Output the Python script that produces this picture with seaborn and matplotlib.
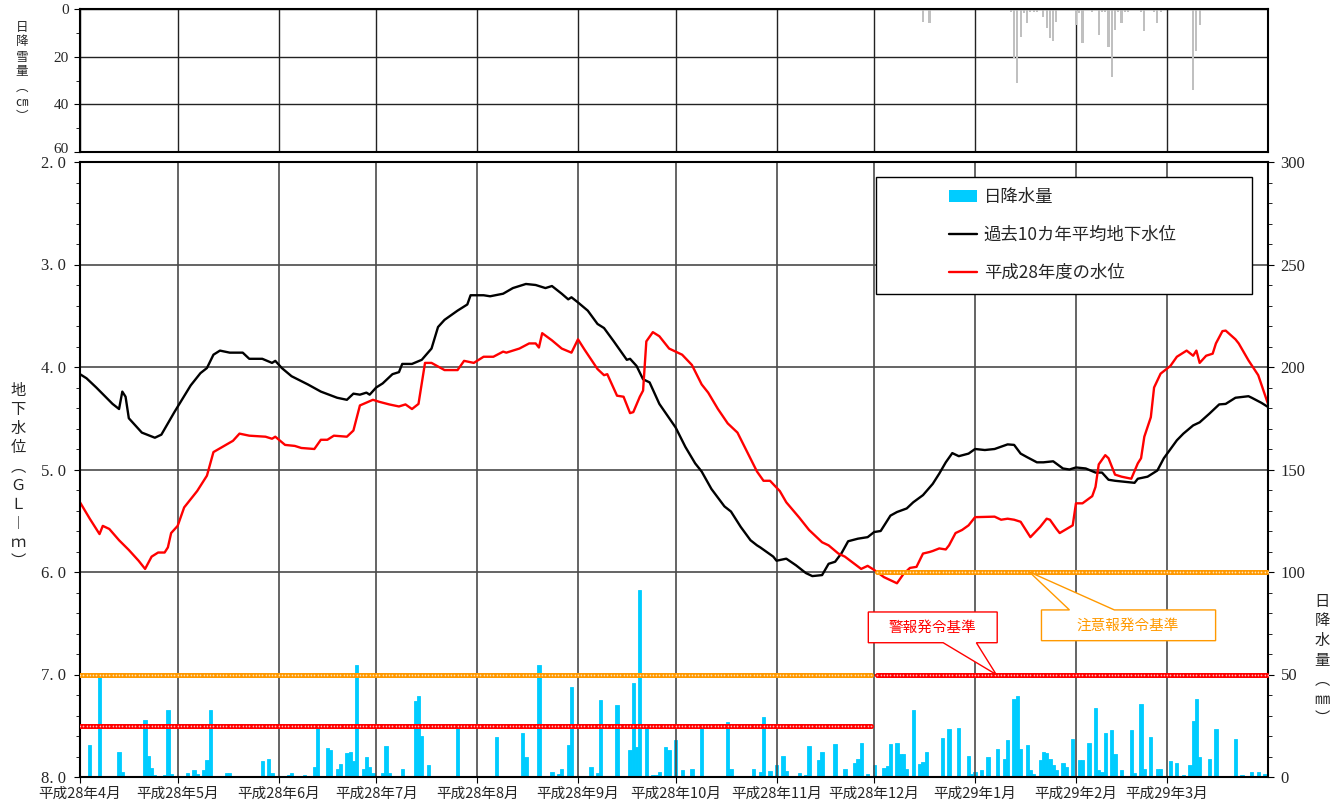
import matplotlib
matplotlib.use("Agg")
import matplotlib.pyplot as plt
import matplotlib.transforms as mtransforms
import numpy as np
import seaborn as sns
from matplotlib.patches import Patch, Polygon, Rectangle
from matplotlib.lines import Line2D
from matplotlib.ticker import MultipleLocator

# x = days counted from 2016-04-01 (平成28年4月1日)
month_starts = [0, 30, 61, 91, 122, 153, 183, 214, 244, 275, 306, 334]
month_labels = ["平成28年4月", "平成28年5月", "平成28年6月", "平成28年7月",
                "平成28年8月", "平成28年9月", "平成28年10月", "平成28年11月",
                "平成28年12月", "平成29年1月", "平成29年2月", "平成29年3月"]

# past 10-year average groundwater level (GL -m)
avg_days = [0, 2, 5, 10, 12, 13, 14, 15, 19, 23, 25, 29, 34, 37, 39, 41, 43, 46, 50, 52,
            56, 59, 60, 62, 65, 70, 74, 79, 82, 84, 86, 88, 89, 91, 93, 96, 98, 99, 102, 105,
            108, 110, 112, 116, 119, 120, 124, 126, 130, 133, 137, 140, 143, 145, 148, 150, 151, 153, 156, 159,
            161, 164, 168, 169, 171, 173, 175, 178, 183, 186, 189, 191, 194, 198, 200, 203, 206, 208, 209, 213,
            214, 217, 220, 223, 225, 228, 230, 232, 234, 236, 239, 242, 244, 246, 249, 251, 254, 256, 259, 262,
            264, 266, 268, 270, 273, 275, 278, 281, 285, 287, 289, 291, 294, 296, 299, 302, 304, 306, 309, 312,
            314, 316, 318, 321, 324, 325, 328, 331, 333, 337, 339, 342, 344, 347, 350, 352, 355, 359, 360, 363,
            365]
avg_level = [4.07, 4.11, 4.20, 4.36, 4.41, 4.24, 4.29, 4.50, 4.64, 4.69, 4.66, 4.44, 4.18, 4.06, 4.01, 3.88, 3.84, 3.86, 3.86, 3.92,
             3.92, 3.96, 3.94, 4.01, 4.09, 4.17, 4.24, 4.30, 4.32, 4.26, 4.27, 4.25, 4.27, 4.20, 4.16, 4.07, 4.05, 3.97, 3.97, 3.93,
             3.82, 3.61, 3.54, 3.45, 3.39, 3.30, 3.30, 3.31, 3.285, 3.23, 3.19, 3.20, 3.23, 3.21, 3.285, 3.34, 3.32, 3.37, 3.45, 3.58,
             3.62, 3.75, 3.93, 3.92, 3.99, 4.12, 4.15, 4.36, 4.59, 4.78, 4.94, 5.02, 5.19, 5.36, 5.41, 5.56, 5.69, 5.74, 5.76, 5.85,
             5.89, 5.87, 5.935, 6.01, 6.04, 6.03, 5.92, 5.90, 5.815, 5.70, 5.675, 5.66, 5.61, 5.60, 5.45, 5.415, 5.38, 5.32, 5.25, 5.14,
             5.04, 4.93, 4.84, 4.87, 4.845, 4.80, 4.81, 4.80, 4.755, 4.76, 4.845, 4.88, 4.93, 4.93, 4.92, 4.99, 5.00, 4.98, 4.99, 5.03,
             5.03, 5.10, 5.11, 5.12, 5.13, 5.09, 5.07, 5.01, 4.89, 4.715, 4.65, 4.57, 4.54, 4.455, 4.365, 4.36, 4.30, 4.285, 4.30, 4.35,
             4.39]

# 平成28年度 groundwater level (GL -m)
h28_days = [0, 3, 6, 7, 9, 12, 15, 18, 20, 22, 24, 26, 27, 28, 30, 32, 36, 39, 41, 44,
            47, 49, 52, 57, 59, 60, 63, 66, 68, 72, 74, 76, 78, 82, 84, 86, 90, 92, 95, 98,
            100, 102, 104, 106, 108, 112, 116, 118, 121, 124, 127, 130, 131, 135, 138, 140, 141, 142, 145, 148,
            151, 153, 155, 159, 161, 162, 165, 167, 169, 170, 172, 173, 174, 176, 178, 181, 183, 185, 188, 191,
            193, 196, 199, 202, 205, 208, 210, 212, 215, 217, 221, 224, 228, 230, 233, 235, 239, 240, 242, 244,
            247, 249, 251, 253, 255, 257, 259, 261, 262, 264, 266, 267, 269, 271, 273, 275, 281, 283, 285, 287,
            289, 292, 295, 297, 298, 300, 301, 305, 306, 308, 311, 312, 313, 315, 316, 318, 320, 323, 325, 326,
            327, 329, 330, 332, 335, 337, 340, 342, 343, 344, 346, 348, 349, 351, 352, 355, 356, 359, 362, 365]
h28_level = [5.32, 5.48, 5.63, 5.55, 5.58, 5.69, 5.785, 5.89, 5.97, 5.85, 5.81, 5.81, 5.76, 5.62, 5.55, 5.37, 5.21, 5.06, 4.83, 4.775,
             4.72, 4.65, 4.67, 4.68, 4.70, 4.68, 4.76, 4.77, 4.79, 4.80, 4.71, 4.71, 4.67, 4.68, 4.62, 4.375, 4.32, 4.34, 4.365, 4.385,
             4.365, 4.41, 4.36, 3.96, 3.96, 4.03, 4.03, 3.94, 3.96, 3.90, 3.90, 3.85, 3.86, 3.82, 3.77, 3.77, 3.81, 3.67, 3.74, 3.82,
             3.86, 3.73, 3.83, 4.02, 4.08, 4.07, 4.28, 4.29, 4.45, 4.44, 4.29, 4.23, 3.75, 3.66, 3.70, 3.82, 3.85, 3.88, 3.98, 4.17,
             4.25, 4.41, 4.55, 4.64, 4.83, 5.02, 5.11, 5.11, 5.21, 5.32, 5.47, 5.59, 5.71, 5.74, 5.82, 5.85, 5.945, 5.97, 5.94, 5.98,
             6.05, 6.08, 6.11, 6.02, 5.96, 5.95, 5.82, 5.805, 5.795, 5.77, 5.78, 5.74, 5.62, 5.59, 5.545, 5.465, 5.46, 5.49, 5.48, 5.49,
             5.51, 5.66, 5.56, 5.48, 5.49, 5.58, 5.62, 5.545, 5.33, 5.33, 5.26, 5.17, 4.95, 4.86, 4.89, 5.05, 5.07, 5.09, 4.94, 4.89,
             4.68, 4.49, 4.20, 4.065, 3.99, 3.90, 3.84, 3.89, 3.84, 3.96, 3.89, 3.87, 3.77, 3.65, 3.645, 3.73, 3.77, 3.935, 4.08, 4.36]

# daily precipitation (mm)
rain_days = [3, 6, 12, 13, 20, 21, 22, 23, 26, 27, 28,
             33, 35, 36, 38, 39, 40, 45, 46, 56, 58, 59,
             64, 65, 69, 72, 73, 76, 77, 79, 80, 82, 83, 84, 85, 87, 88, 89, 90,
             93, 94, 95, 99, 103, 104, 105, 107, 116,
             128, 136, 137, 141, 145, 147, 148, 150, 151,
             157, 159, 160, 165, 169, 170, 171, 172, 174, 176, 177, 178, 180, 181,
             183, 185, 188, 191, 199, 200, 207, 209, 210, 212,
             214, 216, 217, 221, 223, 224, 227, 228, 232, 235, 238, 239, 240, 242,
             244, 247, 248, 249, 251, 252, 253, 254, 256, 258, 259, 260, 265, 267, 270, 273, 274,
             275, 277, 279, 282, 284, 285, 287, 288, 289, 291, 292, 293, 295, 296, 297, 298, 299, 300, 302, 303, 305,
             307, 308, 310, 312, 313, 314, 315, 317, 318, 320, 323, 324, 326, 327, 329, 331, 332,
             335, 337, 339, 341, 342, 343, 344, 347, 349, 355, 357, 360, 362, 364]
rain_mm = [15.7, 48.7, 12.2, 2.4, 27.6, 10.2, 4.4, 1.1, 1.1, 32.5, 1.6,
           2.1, 3.2, 1.6, 3.2, 8.1, 32.9, 2.1, 2.1, 7.6, 8.6, 2.1,
           1.0, 2.1, 1.1, 4.9, 24.3, 14.1, 13.0, 3.7, 6.5, 11.8, 12.2, 7.6, 54.4, 4.1, 9.7, 4.9, 1.9,
           2.1, 15.1, 1.9, 4.1, 37.3, 39.4, 20.0, 6.0, 24.3,
           19.5, 21.6, 9.7, 54.4, 2.4, 1.6, 3.7, 15.7, 44.1,
           4.9, 2.1, 37.8, 35.2, 13.0, 45.8, 14.6, 91.2, 24.3, 1.1, 1.1, 2.4, 14.6, 13.0,
           17.9, 3.2, 3.7, 24.3, 26.8, 3.7, 3.7, 2.4, 29.2, 2.8,
           6.0, 10.2, 2.8, 2.1, 1.1, 15.1, 8.1, 12.2, 16.2, 3.7, 7.0, 8.6, 16.7, 1.6,
           6.0, 4.4, 5.4, 16.2, 16.7, 11.4, 11.0, 3.7, 32.5, 6.5, 7.3, 12.2, 19.0, 23.2, 23.9, 10.2, 1.6,
           2.4, 3.6, 9.7, 13.5, 8.9, 17.9, 38.1, 39.4, 13.5, 15.7, 3.2, 1.6, 8.1, 12.2, 11.7, 8.6, 6.0, 3.2, 7.0, 4.9, 18.3,
           8.4, 8.1, 16.7, 33.6, 3.6, 2.4, 21.4, 23.0, 11.4, 3.2, 22.7, 2.1, 35.4, 4.1, 19.5, 4.1, 3.7,
           7.6, 7.0, 1.1, 6.0, 27.1, 38.1, 9.7, 8.6, 23.2, 18.3, 1.1, 2.4, 2.4, 1.6]

# daily snowfall (cm)
snow_days = [259, 261,
             286, 287, 288, 289, 290, 291, 292, 293, 294, 296, 297, 298, 299, 300,
             306, 307, 308, 311, 313, 314, 315, 316, 317, 318, 319, 320, 321, 322, 326, 327, 330, 331, 332,
             342, 343, 344]
snow_cm = [5.3, 6.0,
           1.1, 20.7, 31.2, 11.9, 1.8, 6.0, 1.1, 1.1, 1.1, 3.2, 8.1, 12.3, 13.3, 5.3,
           6.7, 1.8, 14.1, 1.1, 10.9, 1.1, 1.1, 15.8, 28.7, 8.8, 1.1, 6.0, 1.1, 1.1, 1.1, 9.1, 1.1, 6.0, 1.1,
           34.0, 17.5, 6.7]

# alert criteria (start day, end day, GL -m)
caution_periods = [(0, 243, 7.0), (245, 365, 6.0)]
warning_periods = [(0, 243, 7.5), (245, 365, 7.0)]

RAIN = "#00CCFF"
ORANGE = "#FF9900"
RED = "#FF0000"
GRID = "#4a4a4a"
SERIF = ["Liberation Serif", "DejaVu Serif"]

sns.set_style("white")
plt.rcParams["font.family"] = ["Noto Sans CJK JP", "DejaVu Sans"]

W, H = 1344, 809
fig = plt.figure(figsize=(W / 100, H / 100), dpi=100)
ax_snow = fig.add_axes([80 / W, 1 - 152 / H, 1188 / W, 143 / H])
ax = fig.add_axes([80 / W, 1 - 777 / H, 1188 / W, 615 / H])
ax_rain = ax.twinx()
ax.set_zorder(2)
ax_rain.set_zorder(1)
ax.patch.set_visible(False)

# snowfall panel
sns.barplot(x=snow_days, y=snow_cm, native_scale=True, color="#C0C0C0", saturation=1,
            width=0.65, linewidth=0, errorbar=None, ax=ax_snow)
ax_snow.set_xlim(0, 365)
ax_snow.set_ylim(60, 0)
ax_snow.set_xticks(month_starts)
ax_snow.set_xticklabels([])
ax_snow.set_yticks([0, 20, 40, 60])
ax_snow.set_yticklabels(["0", "20", "40", "60"], fontfamily=SERIF, fontsize=11)
ax_snow.yaxis.set_minor_locator(MultipleLocator(10))
ax_snow.tick_params(axis="x", length=0)
ax_snow.tick_params(axis="y", which="both", direction="out", color="black", left=True)
ax_snow.tick_params(axis="y", which="major", length=4, pad=4)
ax_snow.tick_params(axis="y", which="minor", length=3)
ax_snow.grid(True, color="#222222", lw=1.0)
ax_snow.set_axisbelow(True)
ax_snow.set_xlabel("")
ax_snow.set_ylabel("")
for sp in ax_snow.spines.values():
    sp.set_color("black")
    sp.set_linewidth(1.5)
# lift the bottom "60" a little so it clears the "2. 0" below it
lbl60 = ax_snow.get_yticklabels()[-1]
lbl60.set_transform(lbl60.get_transform() + mtransforms.ScaledTranslation(0, 4 / 100, fig.dpi_scale_trans))

# precipitation bars (right axis)
sns.barplot(x=rain_days, y=rain_mm, native_scale=True, color=RAIN, saturation=1,
            width=1.0, linewidth=0.6, edgecolor=RAIN, errorbar=None, ax=ax_rain)
ax_rain.set_ylim(0, 300)
ax_rain.set_yticks(range(0, 301, 50))
ax_rain.set_yticklabels([str(v) for v in range(0, 301, 50)], fontfamily=SERIF, fontsize=12)
ax_rain.yaxis.set_minor_locator(MultipleLocator(10))
ax_rain.tick_params(axis="y", which="both", direction="out", color="black", right=True)
ax_rain.tick_params(axis="y", which="major", length=4, pad=5)
ax_rain.tick_params(axis="y", which="minor", length=3)
ax_rain.set_xlabel("")
ax_rain.set_ylabel("")
for sp in ax_rain.spines.values():
    sp.set_visible(False)

# groundwater level lines (left axis)
sns.lineplot(x=avg_days, y=avg_level, color="black", lw=1.7, ax=ax)
sns.lineplot(x=h28_days, y=h28_level, color=RED, lw=1.7, ax=ax)

for periods, col, dot in [(caution_periods, ORANGE, "#FFE2B8"), (warning_periods, RED, "#FFB8B8")]:
    for start, end, level in periods:
        d = np.arange(start, end + 1)
        ax.plot(d, np.full(len(d), level), color=col, lw=3.6, marker="o", ms=2.2,
                mfc=dot, mec=col, mew=0.9, zorder=3)

ax.set_xlim(0, 365)
ax.set_ylim(8, 2)
ax.set_yticks(range(2, 9))
ax.set_yticklabels([f"{v}. 0" for v in range(2, 9)], fontfamily=SERIF, fontsize=12)
ax.yaxis.set_minor_locator(MultipleLocator(0.2))
ax.set_xticks(month_starts)
ax.set_xticklabels(month_labels, fontsize=10.5)
ax.tick_params(axis="both", which="both", direction="out", color="black", left=True, bottom=True)
ax.tick_params(axis="y", which="major", length=4, pad=6)
ax.tick_params(axis="y", which="minor", length=3)
ax.tick_params(axis="x", length=4, pad=3)
ax.grid(True, color=GRID, lw=1.2)
ax.set_axisbelow(True)
ax.set_xlabel("")
ax.set_ylabel("")
for sp in ax.spines.values():
    sp.set_color("black")
    sp.set_linewidth(1.5)

# legend box
fig.add_artist(Rectangle((876 / W, 1 - 294 / H), 376 / W, 117 / H, transform=fig.transFigure,
                         fc="white", ec="black", lw=1.0, zorder=4))
handles = [Patch(facecolor=RAIN, edgecolor="none"),
           Line2D([], [], color="black", lw=1.7),
           Line2D([], [], color=RED, lw=1.7)]
labels = ["日降水量", "過去10カ年平均地下水位", "平成28年度の水位"]
fig.legend(handles, labels, loc="upper left", bbox_to_anchor=(942 / W, 1 - 181 / H),
           frameon=False, fontsize=12.5, labelspacing=1.15, handlelength=1.6,
           handleheight=0.75, handletextpad=0.4, borderaxespad=0)

# callouts for the alert criteria
warn_shape = [(242.2, 6.39), (281.8, 6.39), (281.8, 6.69), (275.4, 6.69), (281.5, 7.0),
              (265.2, 6.69), (242.2, 6.69)]
ax.add_patch(Polygon(warn_shape, closed=True, fc="white", ec=RED, lw=1.0, zorder=6, clip_on=False))
ax.text(262, 6.54, "警報発令基準", color=RED, fontsize=10.5, ha="center", va="center", zorder=7)
caution_shape = [(295.4, 6.37), (304.0, 6.37), (291.7, 6.0), (317.8, 6.37), (348.9, 6.37),
                 (348.9, 6.67), (295.4, 6.67)]
ax.add_patch(Polygon(caution_shape, closed=True, fc="white", ec=ORANGE, lw=1.0, zorder=6, clip_on=False))
ax.text(322, 6.52, "注意報発令基準", color=ORANGE, fontsize=10.5, ha="center", va="center", zorder=7)

# vertical axis titles
fig.text(18 / W, 1 - 476 / H, "\n".join("地下水位︵ＧＬ︱ｍ︶"), fontsize=11,
         ha="center", va="center", linespacing=1.15)
fig.text(1322 / W, 1 - 660 / H, "\n".join("日降水量︵㎜︶"), fontsize=11,
         ha="center", va="center", linespacing=1.2)
fig.text(22 / W, 1 - 72 / H, "\n".join("日降雪量︵㎝︶"), fontsize=9,
         ha="center", va="center", linespacing=1.2)

fig.savefig("out.png", dpi=100)
